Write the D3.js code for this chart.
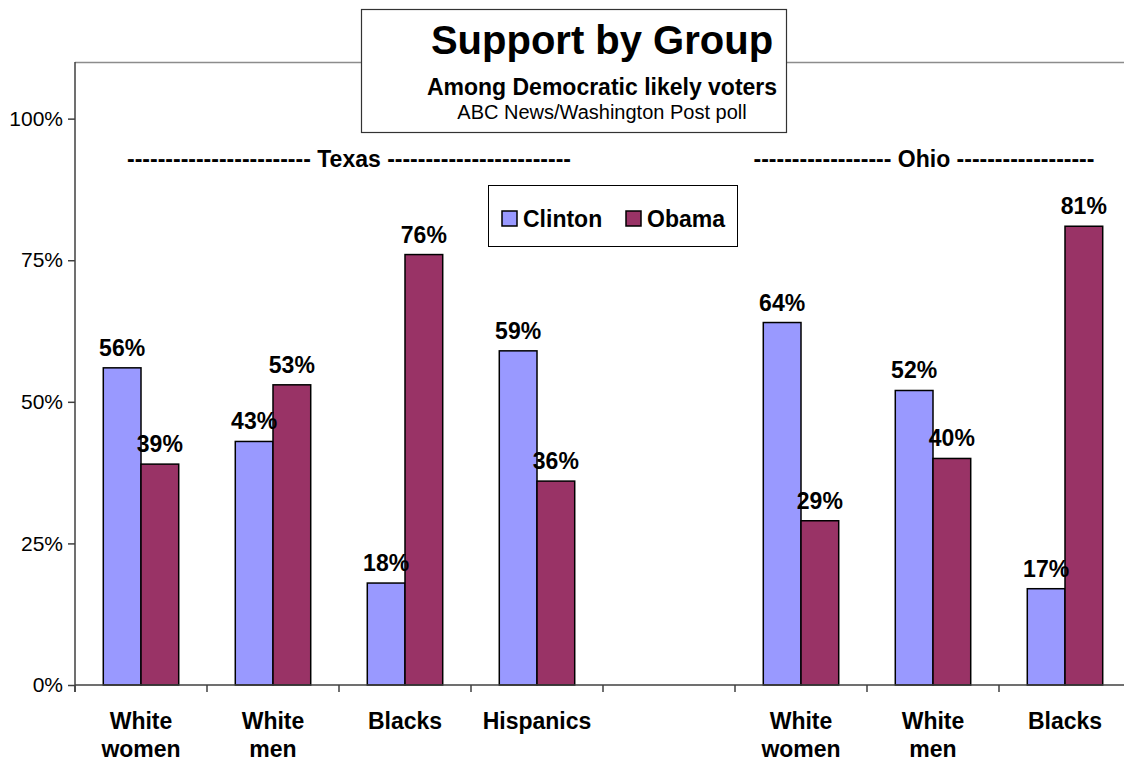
<!DOCTYPE html>
<html>
<head>
<meta charset="utf-8">
<script src="https://cdn.jsdelivr.net/npm/d3@7"></script>
<style>
  html, body { margin: 0; padding: 0; background: #fff; }
  svg { display: block; font-family: Arial, "Liberation Sans", Helvetica, sans-serif; }
</style>
</head>
<body>
<svg id="chart" width="1124" height="762"></svg>
<script>
// Category slots (the empty slot separates Texas from Ohio)
const categories = [["White", "women"], ["White", "men"], ["Blacks"], ["Hispanics"], [], ["White", "women"], ["White", "men"], ["Blacks"]];
const seriesNames = ["Clinton", "Obama"];
const clintonValues = [56, 43, 18, 59, null, 64, 52, 17];
const obamaValues = [39, 53, 76, 36, null, 29, 40, 81];
const yTicks = [0, 25, 50, 75, 100];
const colors = { Clinton: "#9999FF", Obama: "#993366" };

const svg = d3.select("#chart");

const plot = { left: 75, right: 1131, top: 62, bottom: 685 };

const x0 = d3.scaleBand()
  .domain(d3.range(categories.length))
  .range([plot.left, plot.right])
  .paddingInner(0).paddingOuter(0);

const x1 = d3.scaleBand()
  .domain(seriesNames)
  .range([0, x0.bandwidth()])
  .paddingInner(0).paddingOuter(0.75);

const y = d3.scaleLinear().domain([0, 110]).range([plot.bottom, plot.top]);

// Plot frame: light top border
svg.append("line")
  .attr("x1", plot.left).attr("x2", plot.right)
  .attr("y1", plot.top + 0.5).attr("y2", plot.top + 0.5)
  .attr("stroke", "#8c8c8c").attr("stroke-width", 1.5);

// Bars
const rows = categories.map((c, i) => ({ i, Clinton: clintonValues[i], Obama: obamaValues[i] }));
const groups = svg.append("g").selectAll("g")
  .data(rows).join("g")
  .attr("transform", d => `translate(${x0(d.i)},0)`);

groups.selectAll("rect")
  .data(d => seriesNames.filter(s => d[s] != null).map(s => ({ s, v: d[s] })))
  .join("rect")
  .attr("x", d => x1(d.s))
  .attr("y", d => y(d.v))
  .attr("width", x1.bandwidth())
  .attr("height", d => y(0) - y(d.v))
  .attr("fill", d => colors[d.s])
  .attr("stroke", "#000")
  .attr("stroke-width", 1.5);

groups.selectAll("text.val")
  .data(d => seriesNames.filter(s => d[s] != null).map(s => ({ s, v: d[s] })))
  .join("text")
  .attr("class", "val")
  .attr("x", d => x1(d.s) + x1.bandwidth() / 2)
  .attr("y", d => y(d.v) - 12)
  .attr("text-anchor", "middle")
  .attr("font-size", 23).attr("font-weight", "bold")
  .text(d => d.v + "%");

// Y axis
const yAxis = d3.axisLeft(y).tickValues(yTicks).tickFormat(d => d + "%").tickSize(7).tickPadding(5);
const gy = svg.append("g").attr("transform", `translate(${plot.left},0)`).call(yAxis);
gy.select(".domain").attr("d", `M0,${plot.top}V${plot.bottom + 7}`).attr("stroke", "#404040").attr("stroke-width", 1.5);
gy.selectAll(".tick line").attr("stroke", "#404040").attr("stroke-width", 1.5);
gy.selectAll(".tick text").attr("font-size", 21).attr("fill", "#000")
  .attr("font-family", "Arial, 'Liberation Sans', sans-serif");

// X axis: baseline with ticks at slot boundaries
const bounds = d3.range(categories.length + 1).map(i => i === categories.length ? plot.right : x0(i));
const gx = svg.append("g");
gx.append("line")
  .attr("x1", plot.left).attr("x2", plot.right)
  .attr("y1", plot.bottom).attr("y2", plot.bottom)
  .attr("stroke", "#404040").attr("stroke-width", 1.5);
gx.selectAll("line.tk").data(bounds).join("line")
  .attr("class", "tk")
  .attr("x1", d => d).attr("x2", d => d)
  .attr("y1", plot.bottom).attr("y2", plot.bottom + 7)
  .attr("stroke", "#404040").attr("stroke-width", 1.5);

const cat = gx.selectAll("text.cat").data(categories.map((c, i) => ({ c, i }))).join("text")
  .attr("class", "cat")
  .attr("x", d => x0(d.i) + x0.bandwidth() / 2)
  .attr("y", 729)
  .attr("text-anchor", "middle")
  .attr("font-size", 23).attr("font-weight", "bold");
cat.selectAll("tspan").data(d => d.c.map((t, k) => ({ t, k, x: x0(d.i) + x0.bandwidth() / 2 }))).join("tspan")
  .attr("x", d => d.x)
  .attr("dy", d => d.k === 0 ? 0 : 28)
  .text(d => d.t);

// State group captions
const dashesTX = "-".repeat(24), dashesOH = "-".repeat(18);
svg.append("text")
  .attr("x", 349).attr("y", 167).attr("text-anchor", "middle")
  .attr("font-size", 23).attr("font-weight", "bold")
  .text(`${dashesTX} Texas ${dashesTX}`);
svg.append("text")
  .attr("x", 924).attr("y", 167).attr("text-anchor", "middle")
  .attr("font-size", 23).attr("font-weight", "bold")
  .text(`${dashesOH} Ohio ${dashesOH}`);

// Legend
const legend = svg.append("g");
legend.append("rect")
  .attr("x", 488.5).attr("y", 185.5).attr("width", 249).attr("height", 61)
  .attr("fill", "#fff").attr("stroke", "#000").attr("stroke-width", 1);
const legendX = { Clinton: 502, Obama: 626 };
seriesNames.forEach(s => {
  legend.append("rect")
    .attr("x", legendX[s]).attr("y", 211).attr("width", 15).attr("height", 15)
    .attr("fill", colors[s]).attr("stroke", "#000").attr("stroke-width", 1.5);
  legend.append("text")
    .attr("x", legendX[s] + 21).attr("y", 227)
    .attr("font-size", 23).attr("font-weight", "bold")
    .text(s);
});

// Title box
const title = svg.append("g");
title.append("rect")
  .attr("x", 361.5).attr("y", 9.5).attr("width", 425).attr("height", 123)
  .attr("fill", "#fff").attr("stroke", "#333").attr("stroke-width", 1.2);
title.append("text").attr("x", 602).attr("y", 54).attr("text-anchor", "middle")
  .attr("font-size", 40).attr("font-weight", "bold").text("Support by Group");
title.append("text").attr("x", 602).attr("y", 95).attr("text-anchor", "middle")
  .attr("font-size", 23).attr("font-weight", "bold").text("Among Democratic likely voters");
title.append("text").attr("x", 602).attr("y", 119).attr("text-anchor", "middle")
  .attr("font-size", 20).text("ABC News/Washington Post poll");
</script>
</body>
</html>
